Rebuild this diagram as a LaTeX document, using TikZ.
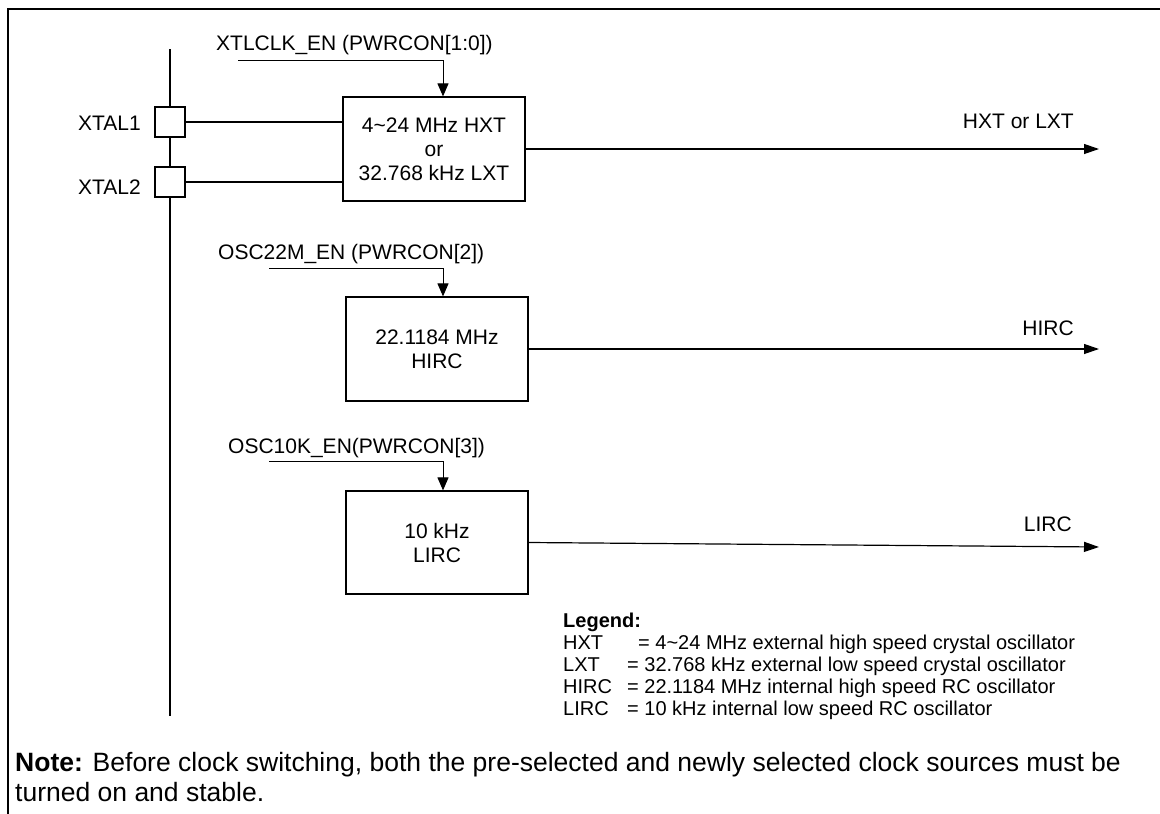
\documentclass[tikz,border=0pt]{standalone}
\usepackage{fontspec}
\setmainfont{Liberation Sans}
\usetikzlibrary{arrows.meta}

\begin{document}
\begin{tikzpicture}[x=1pt,y=-1pt,
    osc/.style={draw,line width=1.2pt,minimum width=182pt,minimum height=104pt,
      inner sep=0pt,align=center,font=\fontsize{21}{24}\selectfont},
    pad/.style={draw,fill=white,line width=1.2pt,minimum width=30pt,minimum height=30pt,inner sep=0pt},
    lbl/.style={inner sep=0pt,font=\fontsize{21}{24}\selectfont},
    leg/.style={inner sep=0pt,font=\fontsize{20}{22}\selectfont},
    notetext/.style={inner sep=0pt,font=\fontsize{26.5}{30}\selectfont},
    ctrl/.style={line width=1pt,-{Triangle[length=13pt,width=11pt]}},
    outarrow/.style={line width=1.2pt,-{Triangle[length=15pt,width=10pt]}},
    wire/.style={line width=1.4pt}]
  \useasboundingbox (0,0) rectangle (1160,814);
  % frame
  \draw[line width=2pt] (8,814) -- (8,9) -- (1160,9);

  % pin bus and crystal pads
  \coordinate (bustop) at (170,49);
  \coordinate (busbot) at (170,716);
  \draw[line width=1.6pt] (bustop) -- (busbot);
  \node[pad] (xtalone) at (170,122) {};
  \node[pad] (xtaltwo) at (170,182) {};
  \node[lbl,anchor=base east] (xtalonelbl) at (141,130) {XTAL1};
  \node[lbl,anchor=base east] (xtaltwolbl) at (141,194) {XTAL2};

  % oscillators
  \node[osc] (hxt) at (434,149) {4\textasciitilde 24 MHz HXT\\or\\32.768 kHz LXT};
  \node[osc] (hirc) at (437,349) {22.1184 MHz\\HIRC};
  \node[osc,minimum height=103pt] (lirc) at (437,542.5) {10 kHz\\LIRC};

  \draw[wire] (xtalone.east) -- (xtalone.east -| hxt.west);
  \draw[wire] (xtaltwo.east) -- (xtaltwo.east -| hxt.west);

  % enable signals
  \node[lbl,anchor=base west] (xtlen) at (216,50) {XTLCLK\_EN (PWRCON[1:0])};
  \node[lbl,anchor=base west] (osc22en) at (218,259.5) {OSC22M\_EN (PWRCON[2])};
  \node[lbl,anchor=base west] (osc10en) at (228,453) {OSC10K\_EN(PWRCON[3])};
  \coordinate (xtlstart) at (238,60);
  \coordinate (osc22start) at (269,268);
  \coordinate (osc10start) at (269,461);
  \draw[ctrl] (xtlstart) -| ([xshift=9pt]hxt.north);
  \draw[ctrl] (osc22start) -| ([xshift=6pt]hirc.north);
  \draw[ctrl] (osc10start) -| ([xshift=6pt]lirc.north);

  % outputs
  \coordinate (hxtend) at (1099,149);
  \coordinate (hircend) at (1099,349);
  \coordinate (lircend) at (1099,547);
  \draw[outarrow] (hxt.east) -- (hxtend);
  \draw[outarrow] (hirc.east) -- (hircend);
  \draw[outarrow] (lirc.east) -- (lircend);
  \node[lbl,anchor=base east] (hxtlbl) at (1074,128.5) {HXT or LXT};
  \node[lbl,anchor=base east] (hirclbl) at (1074,335.5) {HIRC};
  \node[lbl,anchor=base east] (lirclbl) at (1072,531) {LIRC};

  % legend
  \node[leg,anchor=base west] (legtitle) at (563,627) {\textbf{Legend:}};
  \foreach \n/\w/\txt [count=\i] in {
      HXT/75/{= 4\textasciitilde 24 MHz external high speed crystal oscillator},
      LXT/64/{= 32.768 kHz external low speed crystal oscillator},
      HIRC/64/{= 22.1184 MHz internal high speed RC oscillator},
      LIRC/64/{= 10 kHz internal low speed RC oscillator}} {
    \node[leg,anchor=base west] (leg\i) at (563,{627+22*\i}) {\makebox[\w pt][l]{\n}\txt};
  }

  % note
  \node[notetext,anchor=base west] (noteone) at (15,771)
    {\textbf{Note:} Before clock switching, both the pre-selected and newly selected clock sources must be};
  \node[notetext,anchor=base west] (notetwo) at (15,801) {turned on and stable.};
\end{tikzpicture}
\end{document}
